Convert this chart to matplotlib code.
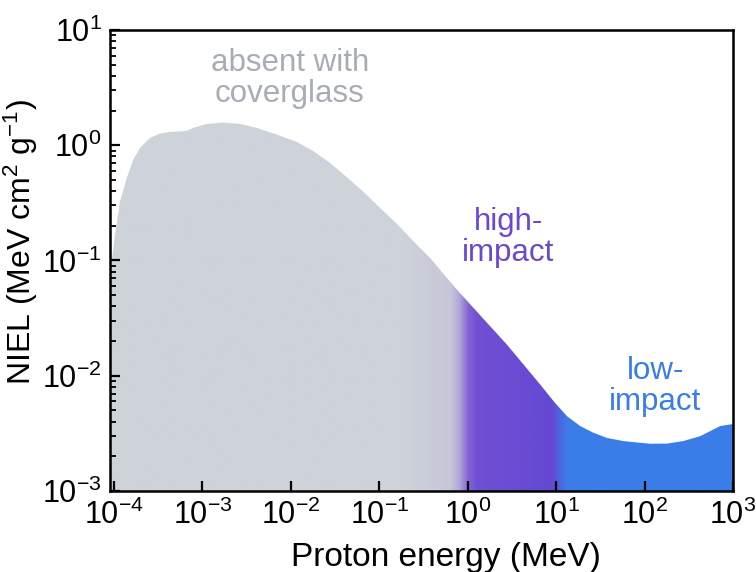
import numpy as np
import matplotlib
matplotlib.use("Agg")
import matplotlib.pyplot as plt
from matplotlib.colors import to_rgb
from matplotlib.patches import Polygon

plt.rcParams["font.family"] = ["Liberation Sans", "DejaVu Sans"]
plt.rcParams["mathtext.fontset"] = "custom"
plt.rcParams["mathtext.rm"] = "Liberation Sans"
plt.rcParams["mathtext.it"] = "Liberation Sans:italic"
plt.rcParams["mathtext.bf"] = "Liberation Sans:bold"

# Proton NIEL curve (MeV cm^2 / g) versus proton energy (MeV)
energy_mev = [9.0e-5, 9.42e-5, 1.026e-4, 1.169e-4, 1.393e-4, 1.653e-4, 1.968e-4,
              2.553e-4, 3.31e-4, 4.30e-4, 6.08e-4, 6.75e-4, 7.88e-4, 1.119e-3,
              1.723e-3, 2.66e-3, 4.11e-3, 6.93e-3, 1.167e-2, 1.80e-2, 2.77e-2,
              4.29e-2, 6.61e-2, 0.102, 0.158, 0.243, 0.376, 0.581, 0.753, 1.16,
              1.792, 2.767, 4.27, 6.59, 9.33, 13.2, 18.7, 26.4, 37.4, 57.7, 89.1,
              115.6, 180.0, 273.0, 426.0, 507.0, 716.0, 929.0, 1000.0]
niel = [0.066, 0.0986, 0.168, 0.327, 0.520, 0.751, 0.948,
        1.157, 1.263, 1.304, 1.323, 1.341, 1.413, 1.530,
        1.573, 1.530, 1.413, 1.238, 1.068, 0.887, 0.702,
        0.528, 0.394, 0.286, 0.208, 0.147, 0.105, 0.0706, 0.0560, 0.0388,
        0.0269, 0.01867, 0.01253, 0.00840, 0.00603, 0.00447, 0.00366, 0.00320,
        0.00289, 0.00271, 0.00262, 0.00257, 0.00258, 0.00271, 0.00299, 0.00320,
        0.00366, 0.00378, 0.0038]

x_limits = (9.0e-5, 1.0e3)
y_limits = (1.0e-3, 1.0e1)
x_ticks = [1e-4, 1e-3, 1e-2, 1e-1, 1e0, 1e1, 1e2, 1e3]
x_tick_labels = [r"$10^{-4}$", r"$10^{-3}$", r"$10^{-2}$", r"$10^{-1}$",
                 r"$10^{0}$", r"$10^{1}$", r"$10^{2}$", r"$10^{3}$"]
y_ticks = [1e-3, 1e-2, 1e-1, 1e0, 1e1]
y_tick_labels = [r"$10^{-3}$", r"$10^{-2}$", r"$10^{-1}$", r"$10^{0}$", r"$10^{1}$"]

# colour stops along log10(energy)
stop_log_e = [-4.05, -0.75, -0.20, -0.10, 0.0, 0.10, 0.95, 1.05, 1.12, 3.0]
stop_colors = ["#ced3da", "#ced3da", "#c7c6d9", "#b2a6da", "#8462d4", "#7050d3",
               "#6549d3", "#4a6ae0", "#3a7de8", "#3a7de8"]

GRAY_TEXT = "#a8adb5"
PURPLE = "#6a48d0"
BLUE = "#3a7de8"

fig = plt.figure(figsize=(7.56, 5.72), dpi=100)
ax = fig.add_axes([0.1455, 0.1416, 0.8241, 0.806])
ax.set_xscale("log")
ax.set_yscale("log")
ax.set_xlim(*x_limits)
ax.set_ylim(*y_limits)

# horizontal colour gradient, clipped to the area under the curve
lx0, lx1 = np.log10(x_limits[0]), np.log10(x_limits[1])
cols = np.linspace(lx0, lx1, 1600)
rgb = np.array([to_rgb(c) for c in stop_colors])
grad = np.stack([np.interp(cols, stop_log_e, rgb[:, k]) for k in range(3)], axis=-1)
grad = grad[np.newaxis, :, :]
img = ax.imshow(grad, extent=[0, 1, 0, 1], transform=ax.transAxes,
                aspect="auto", interpolation="bilinear", zorder=1)

verts = [(energy_mev[0], y_limits[0])] + list(zip(energy_mev, niel)) + \
        [(energy_mev[-1], y_limits[0])]
area = Polygon(verts, closed=True, facecolor="none", edgecolor="none",
               transform=ax.transData)
ax.add_patch(area)
img.set_clip_path(area)
ax.set_xlim(*x_limits)
ax.set_ylim(*y_limits)

ax.set_xticks(x_ticks)
ax.set_xticklabels(x_tick_labels)
ax.set_yticks(y_ticks)
ax.set_yticklabels(y_tick_labels)
ax.tick_params(which="both", direction="in", top=False, right=False)
ax.tick_params(which="major", length=7, width=1.6, labelsize=22, pad=6)
ax.tick_params(axis="x", which="major", pad=6)
ax.tick_params(which="minor", length=4, width=1.3)
for s in ax.spines.values():
    s.set_linewidth(1.8)
    s.set_zorder(5)

ax.set_xlabel("Proton energy (MeV)", fontsize=24)
ax.xaxis.set_label_coords(0.539, -0.163)
ax.xaxis.label.set_verticalalignment("baseline")
ax.set_ylabel(r"NIEL (MeV cm$^{2}$ g$^{-1}$)", fontsize=23)
ax.yaxis.set_label_coords(-0.112, 0.54)

ax.text(9.7e-3, 3.8, "absent with\ncoverglass", color=GRAY_TEXT, fontsize=22.5,
        ha="center", va="center", linespacing=1.05)
ax.text(2.86, 0.159, "high-\nimpact", color=PURPLE, fontsize=22.5,
        ha="center", va="center", linespacing=1.05)
ax.text(132, 0.0080, "low-\nimpact", color=BLUE, fontsize=22.5,
        ha="center", va="center", linespacing=1.05)

fig.savefig("out.png", dpi=100)
